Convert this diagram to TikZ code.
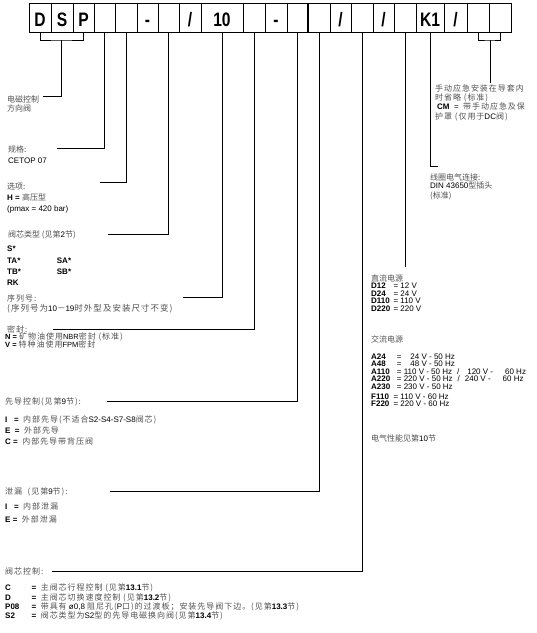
\documentclass[tikz,border=0pt]{standalone}
\usepackage{fontspec}
\setmainfont{Liberation Sans}
\newfontfamily\cjk{Noto Sans CJK SC}
\newfontfamily\cjks[LetterSpace=12]{Noto Sans CJK SC}
\newfontfamily\boxfont[FakeStretch=0.8]{Liberation Sans}
\usetikzlibrary{positioning}
\definecolor{ZHGray}{RGB}{80,80,80}
\newcommand\zn[1]{{\cjk\color{ZHGray}#1}}
\newcommand\zh[2][]{{\cjks\color{ZHGray}#1#2}}
\newcommand\slsh{/}

\begin{document}
\begin{tikzpicture}[x=1pt,y=-1pt,
  cell/.style={draw,line width=0.7pt,minimum height=29pt,inner sep=0pt,
               text height=18.3pt,text depth=0pt,
               font=\boxfont\fontsize{19.5}{19.5}\selectfont\bfseries},
  lbl/.style={anchor=base west,inner sep=0pt,font=\fontsize{8}{8}\selectfont},
  sml/.style={anchor=base west,inner sep=0pt,font=\fontsize{7.5}{7.5}\selectfont},
  lead/.style={draw,line width=0.7pt},
]
\useasboundingbox (0,0) rectangle (537,633);
\foreach \i/\xa/\xb/\t in {1/29/51/D,2/51/73/S,3/73/94/P,4/94/115/,5/115/137/,
    6/137/158/-,7/158/179/,8/179/201/\slsh,9/201/243/10,10/243/265/,11/265/287/-,
    12/287/308/,13/308/330/,14/330/351/\slsh,15/351/373/,16/373/394/\slsh,17/394/416/,
    18/416/444/K1,19/444/467/\slsh,20/467/489/,21/489/511/}
  \node[cell,minimum width={(\xb-\xa)*1pt}] (c\i) at ({(\xa+\xb)/2},17.5) {\t};
\draw[line width=1.2pt] (c13.north west) -- (c13.south west);

\node[lbl] (dir1) at (7,102) {\zn{电磁控制}};
\node[lbl] (dir2) at (7,111) {\zn{方向阀}};
\node[lbl] (size1) at (8,152) {\zn{规格:}};
\node[lbl] (size2) at (8,163) {CETOP 07};
\node[lbl] (opt1) at (7,189) {\zn{选项:}};
\node[lbl] (opt2) at (7,200) {\textbf{H =} \zn{高压型}};
\node[lbl] (opt3) at (7,211) {(pmax = 420 bar)};
\node[lbl] (spool) at (8,237) {\zn{阀芯类型\ (见第}2\zn{节)}};
\node[lbl] (s1) at (7,251.5) {\textbf{S*}};
\node[lbl] (s2) at (7,263) {\textbf{TA*}};
\node[lbl] (s3) at (7,274) {\textbf{TB*}};
\node[lbl] (s4) at (7,285) {\textbf{RK}};
\node[lbl] (s5) at (56.7,263) {\textbf{SA*}};
\node[lbl] (s6) at (56.7,274) {\textbf{SB*}};
\node[lbl] (ser1) at (7,301) {\zh{序列号:}};
\node[lbl] (ser2) at (7,311) {\zh[\fontsize{8.5}{8.5}\selectfont]{(序列号为}10\zh[\fontsize{8.5}{8.5}\selectfont]{－}19\zh[\fontsize{8.5}{8.5}\selectfont]{时外型及安装尺寸不变)}};
\node[lbl] (seal1) at (7,332) {\zh{密封:}};
\node[sml] (seal2) at (5,339.5) {\textbf{N =}\ \zh[\fontsize{8}{8}\selectfont]{矿物油使用}NBR\zh[\fontsize{8}{8}\selectfont]{密封 (标准)}};
\node[sml] (seal3) at (5,347) {\textbf{V =}\ \zh[\fontsize{8}{8}\selectfont]{特种油使用}FPM\zh[\fontsize{8}{8}\selectfont]{密封}};
\node[lbl] (pil1) at (5,404.5) {\zh{先导控制(见第}9\zh{节):}};
\node[lbl] (pil2) at (5,422) {\textbf{I\ \ \ =}\ \ \zh{内部先导(不适合}S2-S4-S7-S8\zh{阀芯)}};
\node[lbl] (pil3) at (5,433.5) {\textbf{E\ \ =}\ \ \zh{外部先导}};
\node[lbl] (pil4) at (5,444.5) {\textbf{C =}\ \ \zh{内部先导带背压阀}};
\node[lbl] (drn1) at (5,494) {\zh{泄漏\ \ (见第}9\zh{节):}};
\node[lbl] (drn2) at (5,509.5) {\textbf{I\ \ \ =}\ \ \zh{内部泄漏}};
\node[lbl] (drn3) at (5,522) {\textbf{E =}\ \ \zh{外部泄漏}};
\node[lbl] (ctl) at (5,574.5) {\zh{阀芯控制:}};
\node[lbl] (ctl1) at (5,590.5) {\textbf{C}};
\node[lbl] (ctl2) at (5,600.5) {\textbf{D}};
\node[lbl] (ctl3) at (5,609.5) {\textbf{P08}};
\node[lbl] (ctl4) at (5,618.5) {\textbf{S2}};
\node[lbl] (ctl1t) at (31.5,590.5) {\textbf{=}\ \ \zh{主阀芯行程控制 (见第}\textbf{13.1}\zh{节)}};
\node[lbl] (ctl2t) at (31.5,600.5) {\textbf{=}\ \ \zh{主阀芯切换速度控制 (见第}\textbf{13.2}\zh{节)}};
\node[lbl] (ctl3t) at (31.5,609.5) {\textbf{=}\ \ \zh{带具有}\ ø0,8\ \zh{阻尼孔(}P\zh{口)的过渡板；安装先导阀下边。(见第}\textbf{13.3}\zh{节)}};
\node[lbl] (ctl4t) at (31.5,618.5) {\textbf{=}\ \ \zh{阀芯类型为}S2\zh{型的先导电磁换向阀(见第}\textbf{13.4}\zh{节)}};

\node[lbl] (man1) at (435,91) {\zh{手动应急安装在导套内}};
\node[lbl] (man2) at (435,100.5) {\zh{时省略 (标准)}};
\node[lbl] (man3) at (437,109.5) {\textbf{CM}\ \ =\ \ \zh{带手动应急及保}};
\node[lbl] (man4) at (435,119) {\zh{护罩 (仅用于}DC\zh{阀)}};
\node[lbl] (coil1) at (430,180) {\zn{线圈电气连接:}};
\node[lbl] (coil2) at (430,188.5) {DIN 43650\zn{型插头}};
\node[lbl] (coil3) at (430,198) {\zn{(标准)}};
\node[lbl] (dc) at (371,281) {\zn{直流电源}};
\foreach \k/\y/\v in {D12/288.5/12 V,D24/296/24 V,D110/303.5/110 V,D220/311/220 V,
    F110/399/110 V - 60 Hz,F220/406.5/220 V - 60 Hz}{
  \node[lbl] (v\k) at (371,\y) {\textbf{\k}};
  \node[lbl] (w\k) at (393.3,\y) {= \v};
}
\node[lbl] (ac) at (371,342.5) {\zn{交流电源}};
\foreach \k/\y/\v in {A24/359/\ \ \ 24 V - 50 Hz,A48/366.5/\ \ \ 48 V - 50 Hz,
    A110/374/110 V - 50 Hz\hspace{5pt}\slsh\hspace{8pt}120 V -\hspace{12pt}60 Hz,
    A220/381.5/220 V - 50 Hz\hspace{5pt}\slsh\hspace{5pt}240 V -\hspace{12pt}60 Hz,
    A230/389/230 V - 50 Hz}{
  \node[lbl] (v\k) at (371,\y) {\textbf{\k}};
  \node[lbl] (w\k) at (396.7,\y) {= \v};
}
\node[lbl] (elec) at (371,441) {\zn{电气性能见第}10\zn{节}};

\coordinate (dspb) at (61,40);
\coordinate (e1) at (43,96);
\draw[lead] (c1.south) |- (dspb) -| (c3.south);
\draw[lead] (dspb) |- (e1);
\coordinate (e4) at (56.7,148.3);
\coordinate (e5) at (100,182.7);
\coordinate (e7) at (108,234);
\coordinate (e9) at (182.7,297.7);
\coordinate (e10) at (53.3,329);
\coordinate (e12) at (107.3,401.7);
\coordinate (e13) at (110,491);
\coordinate (e15) at (52,571.7);
\coordinate (e17) at (405,267);
\coordinate (e18) at (438,166.7);
\draw[lead] (c4.south) |- (e4);
\draw[lead] (c5.south) |- (e5);
\draw[lead] (c7.south) |- (e7);
\draw[lead] (c9.south) |- (e9);
\draw[lead] (c10.south) |- (e10);
\draw[lead] (c12.south) |- (e12);
\draw[lead] (c13.south) |- (e13);
\draw[lead] (c15.south) |- (e15);
\draw[lead] (c17.south) -- (e17);
\draw[lead] (c18.south) |- (e18);
\coordinate (hb) at (490,40);
\coordinate (e20) at (490,83);
\draw[lead] (c20.south) |- (hb) -| (c21.south);
\draw[lead] (hb) -- (e20);
\end{tikzpicture}
\end{document}
